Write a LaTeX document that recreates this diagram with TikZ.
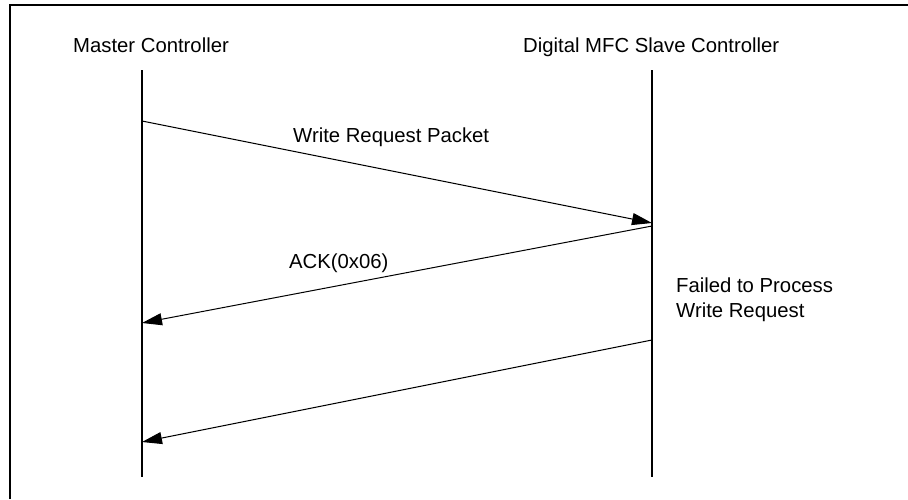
\documentclass[tikz,border=0pt]{standalone}
\usepackage{fontspec}
\setmainfont{Liberation Sans}
\usetikzlibrary{arrows.meta}
\tikzset{
  lbl/.style={inner sep=0pt, anchor=base west, font=\fontsize{20.3}{24.5}\selectfont},
  life/.style={line width=1.2pt},
  msg/.style={line width=1pt, -{Triangle[length=20pt,width=12pt]}},
  frame/.style={line width=2pt}
}
\begin{document}
\begin{tikzpicture}[x=1pt,y=-1pt]
\useasboundingbox (0,0) rectangle (908,499);
% partial frame
\draw[frame] (10,499) -- (10,5) -- (908,5);
% headers
\node[lbl] (mc) at (73,52) {Master Controller};
\node[lbl] (sc) at (523,52) {Digital MFC Slave Controller};
% lifelines
\coordinate (mtop) at (142,70);
\coordinate (mbot) at (142,477);
\coordinate (stop) at (652,70);
\coordinate (sbot) at (652,477);
\draw[life] (mtop) -- (mbot);
\draw[life] (stop) -- (sbot);
% message endpoints
\coordinate (m1s) at (142,121);
\coordinate (m1e) at (652,223);
\coordinate (m2s) at (652,226);
\coordinate (m2e) at (142,323);
\coordinate (m3s) at (652,340);
\coordinate (m3e) at (142,442);
\draw[msg] (m1s) -- (m1e);
\draw[msg] (m2s) -- (m2e);
\draw[msg] (m3s) -- (m3e);
% labels
\node[lbl] (wrp) at (293,142) {Write Request Packet};
\node[lbl] (ack) at (289,268) {ACK(0x06)};
\node[lbl, align=left, anchor=north west] (fail) at (676,278) {Failed to Process\\Write Request};
\end{tikzpicture}
\end{document}
